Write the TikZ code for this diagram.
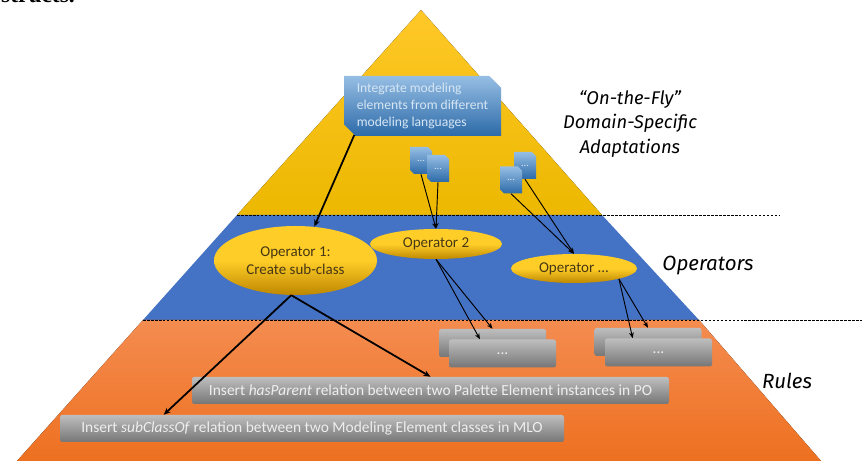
\documentclass[tikz,border=0pt]{standalone}
\usepackage{fontspec}
\setmainfont{Carlito}
\newfontfamily\handfont{Fira Sans}
\newfontfamily\headfont{Liberation Serif}
\definecolor{apextop}{RGB}{255, 200, 40}
\definecolor{apexbot}{RGB}{236, 184, 0}
\definecolor{midblue}{RGB}{68, 114, 196}
\definecolor{basetop}{RGB}{244, 140, 80}
\definecolor{basebot}{RGB}{238, 112, 32}
\definecolor{notetop}{RGB}{150, 190, 228}
\definecolor{notebot}{RGB}{44, 106, 168}
\definecolor{notetext}{RGB}{214, 230, 244}
\definecolor{optop}{RGB}{255, 205, 40}
\definecolor{opbot}{RGB}{190, 135, 0}
\definecolor{optext}{RGB}{70, 55, 20}
\definecolor{ruletop}{RGB}{190, 190, 190}
\definecolor{rulebot}{RGB}{118, 118, 118}
\definecolor{ruletext}{RGB}{238, 238, 238}
\usepackage{tikz}
\usetikzlibrary{shapes.geometric, shapes.misc, arrows.meta, calc}
\tikzset{
  notebox/.style={chamfered rectangle, chamfered rectangle corners={north east, south west}, chamfered rectangle xsep=5pt, chamfered rectangle ysep=5pt, top color=notetop, bottom color=notebot, draw=none, inner sep=0pt, text=notetext},
  smallnote/.style={notebox, chamfered rectangle xsep=3pt, chamfered rectangle ysep=3pt, minimum width=22*0.03cm, minimum height=27*0.03cm, font=\fontsize{9}{9}\selectfont},
  opnode/.style={ellipse, top color=optop, bottom color=opbot, middle color=optop, draw=none, inner sep=0pt, align=center, text=optext, font=\fontsize{12.8}{15.5}\selectfont},
  rulebox/.style={rectangle, rounded corners=2pt, top color=ruletop, bottom color=rulebot, draw=none, inner sep=0pt, text=ruletext, font=\fontsize{13.2}{15}\selectfont},
  sidelabel/.style={align=center, text=black, font=\handfont\itshape\fontsize{17.5}{21}\selectfont},
  thinarrow/.style={-{Stealth[length=5pt, width=4pt]}, thick, black},
  thickarrow/.style={-{Stealth[length=6pt, width=5pt]}, line width=1.5pt, black},
  levelline/.style={dash pattern=on 2.2pt off 1.2pt, thick, black}
}
\begin{document}
\begin{tikzpicture}[x=0.03cm, y=-0.03cm]
  \useasboundingbox (0, 0) rectangle (862, 461);

  % The three levels of the pyramid
  \fill[top color=apextop, bottom color=apexbot] (421, 10) -- (602, 215) -- (237, 215) -- cycle;
  \fill[midblue] (237, 215) -- (602, 215) -- (699, 320) -- (143, 320) -- cycle;
  \fill[top color=basetop, bottom color=basebot] (143, 320) -- (699, 320) -- (821, 461) -- (17, 461) -- cycle;

  % Level separators
  \coordinate (sepAl) at (237, 215);
  \coordinate (sepAr) at (779, 215);
  \coordinate (sepBl) at (143, 320);
  \coordinate (sepBr) at (862, 320);
  \draw[levelline] (sepAl) -- (sepAr);
  \draw[levelline] (sepBl) -- (sepBr);

  % Text cut by the upper edge
  \node[anchor=base west, inner sep=0pt, font=\headfont\bfseries\fontsize{20}{20}\selectfont] (cuthead) at (1, 3) {structs.};

  % Adaptations
  \node[notebox, minimum width=157*0.03cm, minimum height=60*0.03cm, align=left, font=\fontsize{11.6}{14.2}\selectfont] (adaptnote) at (422.5, 106) {Integrate modeling\\elements from different\\modeling languages};
  \node[smallnote] (docA) at (421, 160.5) {...};
  \node[smallnote] (docB) at (438, 168.5) {...};
  \node[smallnote] (docC) at (525, 165.5) {...};
  \node[smallnote] (docD) at (511, 180) {...};

  % Operators
  \node[opnode, minimum width=163*0.03cm, minimum height=69*0.03cm] (opOne) at (295.5, 260.5) {Operator 1:\\Create sub-class};
  \node[opnode, minimum width=132*0.03cm, minimum height=30*0.03cm] (opTwo) at (436, 244) {Operator 2};
  \node[opnode, minimum width=126*0.03cm, minimum height=29*0.03cm] (opDots) at (574, 268.5) {Operator ...};

  % Rules
  \node[rulebox, minimum width=107*0.03cm, minimum height=28*0.03cm] (ruleA) at (492.5, 343) {};
  \node[rulebox, minimum width=107*0.03cm, minimum height=28*0.03cm] (ruleB) at (502.5, 353.5) {...};
  \node[rulebox, minimum width=107*0.03cm, minimum height=28*0.03cm] (ruleC) at (648, 342) {};
  \node[rulebox, minimum width=107*0.03cm, minimum height=28*0.03cm] (ruleD) at (658.5, 352.5) {...};
  \node[rulebox, minimum width=477*0.03cm, minimum height=27*0.03cm] (ruleParent) at (430.5, 390.5) {Insert \textit{hasParent} relation between two Palette Element instances in PO};
  \node[rulebox, minimum width=504*0.03cm, minimum height=27*0.03cm] (ruleSub) at (312, 428.5) {Insert \textit{subClassOf} relation between two Modeling Element classes in MLO};

  % Side labels
  \node[sidelabel, font=\handfont\itshape\fontsize{15.7}{21}\selectfont] (labelFly) at (630, 124) {“On-the-Fly”\\Domain-Specific\\Adaptations};
  \node[sidelabel] (labelOps) at (708, 266) {Operators};
  \node[sidelabel] (labelRules) at (787, 381) {Rules};

  % Connectors
  \draw[thickarrow] (adaptnote.203) -- (opOne.61);
  \draw[thinarrow] (docA.south) -- (opTwo.north);
  \draw[thinarrow] (docB.south) -- (opTwo.north);
  \draw[thinarrow] (docC.south) -- (opDots.north);
  \draw[thinarrow] (docD.south) -- (opDots.north);
  \draw[thinarrow] (opTwo.south) -- (ruleA.north);
  \draw[thinarrow] (opTwo.south) -- ($(ruleB.north west)!0.29!(ruleB.north east)$);
  \draw[thinarrow] (opDots.-13) -- (ruleC.north);
  \draw[thinarrow] (opDots.-13) -- ($(ruleD.north west)!0.26!(ruleD.north east)$);
  \draw[thickarrow] (opOne.263) -- (ruleParent.north);
  \draw[thickarrow] (opOne.263) -- ($(ruleSub.north west)!0.206!(ruleSub.north east)$);
\end{tikzpicture}
\end{document}
